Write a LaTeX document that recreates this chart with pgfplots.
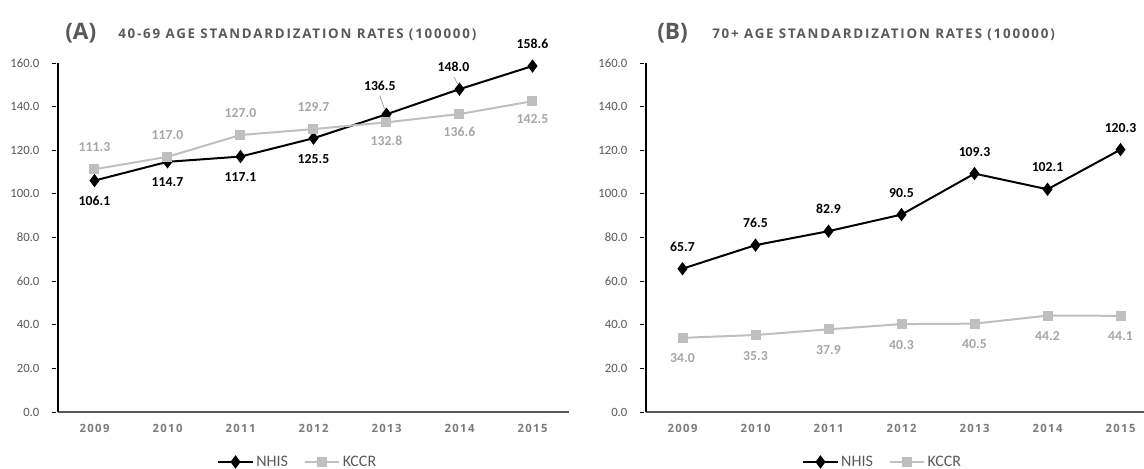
\documentclass[border=0pt]{standalone}
\usepackage{pgfplots}
\pgfplotsset{compat=1.18}
\usepackage{pgfplotstable}
\usepackage{fontspec}
\setmainfont{Carlito}
\newfontfamily\osans{Open Sans}
\definecolor{tickgray}{HTML}{595959}
\definecolor{xlabgray}{HTML}{7A7A7A}
\definecolor{kline}{HTML}{BFBFBF}
\definecolor{klab}{HTML}{A6A6A6}
\definecolor{titlegray}{HTML}{595959}

\pgfplotstableread{
x nhis ndx ndy kccr kdx kdy
0 106.1 0 -15.5 111.3 0 16.5
1 114.7 0 -15.5 117.0 0 16.5
2 117.1 0 -15.5 127.0 0 16.5
3 125.5 0 -15.5 129.7 0 16.5
4 136.5 -5 21.5 132.8 0 -13.5
5 148.0 -4.5 16.5 136.6 0 -13.5
6 158.6 0 16.5 142.5 0 -13.5
}\dataA

\pgfplotstableread{
x nhis ndx ndy kccr kdx kdy
0 65.7 0 16.5 34.0 0 -15.5
1 76.5 0 16.5 35.3 0 -15.5
2 82.9 0 16.5 37.9 0 -15.5
3 90.5 0 16.5 40.3 0 -15.5
4 109.3 0 16.5 40.5 0 -15.5
5 102.1 0 16.5 44.2 0 -15.5
6 120.3 0 16.5 44.1 0 -15.5
}\dataB

\pgfplotsset{
  panel/.style={
    scale only axis,
    width=383.25pt, height=261.75pt,
    anchor=south west,
    axis lines=left,
    axis line style={-},
    x axis line style={draw=tickgray, line width=1.3pt},
    y axis line style={draw=black, line width=0.9pt},
    xmin=-0.5, xmax=6.5, ymin=0, ymax=160,
    enlargelimits=false,
    clip=false,
    xtick={0,...,6},
    xticklabels={2009,2010,2011,2012,2013,2014,2015},
    xtick style={draw=none},
    extra x ticks={0.5,1.5,...,6.5},
    extra x tick labels={},
    extra x tick style={tick style={draw=black, line width=0.6pt}},
    major tick length=3pt,
    ytick={0,20,...,160},
    ytick style={draw=black, line width=0.6pt, xshift=-3pt},
    /pgf/number format/.cd, fixed, fixed zerofill, precision=1, assume math mode=true,
    /pgfplots/.cd,
    yticklabel style={font=\fontsize{9.5}{11}\selectfont, text=tickgray, xshift=-9pt},
    xticklabel style={font=\osans\fontsize{8.5}{10}\selectfont\bfseries\addfontfeatures{LetterSpace=12}, text=xlabgray, yshift=-4pt},
    legend columns=2,
    legend style={draw=none, fill=none, font=\fontsize{12}{14}\selectfont, text=tickgray,
      /tikz/every even column/.append style={column sep=10pt}},
    legend image code/.code={\draw[mark repeat=2,mark phase=2] plot coordinates {(0cm,0cm)(0.45cm,0cm)(0.9cm,0cm)};},
  },
  nhis/.style={black, line width=1.5pt, mark=diamond*, mark size=3.8pt, mark options={solid, fill=black},
    nodes near coords,
    visualization depends on={\thisrow{ndx} \as \dx},
    visualization depends on={\thisrow{ndy} \as \dy},
    every node near coord/.append style={anchor=center, xshift=\dx pt, yshift=\dy pt,
      font=\fontsize{10.3}{12}\selectfont\bfseries, text=black, inner sep=0pt}},
  kccr/.style={kline, line width=1.5pt, mark=square*, mark size=3pt, mark options={solid, fill=kline},
    nodes near coords,
    visualization depends on={\thisrow{kdx} \as \dx},
    visualization depends on={\thisrow{kdy} \as \dy},
    every node near coord/.append style={anchor=center, xshift=\dx pt, yshift=\dy pt,
      font=\fontsize{10.3}{12}\selectfont\bfseries, text=klab, inner sep=0pt}},
}

\begin{document}
\begin{tikzpicture}
\begin{axis}[panel, at={(43.5pt,42pt)},
  legend style={at={(0.47,-0.143)}, anchor=center}]
  \addplot[nhis] table[x=x, y=nhis] {\dataA};
  \addplot[kccr] table[x=x, y=kccr] {\dataA};
  \draw[gray, line width=0.4pt] (axis cs:4,136.5) ++(-1.5pt,4pt) -- ++(-3.5pt,10pt);
  \draw[gray, line width=0.4pt] (axis cs:5,148.0) ++(-1.5pt,4pt) -- ++(-2.5pt,5pt);
  \legend{NHIS,KCCR}
\end{axis}
\begin{axis}[panel, at={(484.5pt,42pt)},
  legend style={at={(0.464,-0.143)}, anchor=center}]
  \addplot[nhis] table[x=x, y=nhis] {\dataB};
  \addplot[kccr] table[x=x, y=kccr] {\dataB};
  \legend{NHIS,KCCR}
\end{axis}
\node[anchor=base west, inner sep=0pt, font=\osans\fontsize{17}{19}\selectfont\bfseries, text=titlegray] at (48.75pt,321pt) {(A)};
\node[anchor=base west, inner sep=0pt, font=\osans\fontsize{10}{12}\selectfont\bfseries\addfontfeatures{LetterSpace=13.6}, text=titlegray] at (88.5pt,322pt) {40-69 AGE STANDARDIZATION RATES (100000)};
\node[anchor=base west, inner sep=0pt, font=\osans\fontsize{17}{19}\selectfont\bfseries, text=titlegray] at (492.75pt,321pt) {(B)};
\node[anchor=base west, inner sep=0pt, font=\osans\fontsize{10}{12}\selectfont\bfseries\addfontfeatures{LetterSpace=13.6}, text=titlegray] at (534pt,322pt) {70+ AGE STANDARDIZATION RATES (100000)};
\pgfresetboundingbox
\path[use as bounding box] (0,0) rectangle (858pt,351pt);
\end{tikzpicture}
\end{document}
